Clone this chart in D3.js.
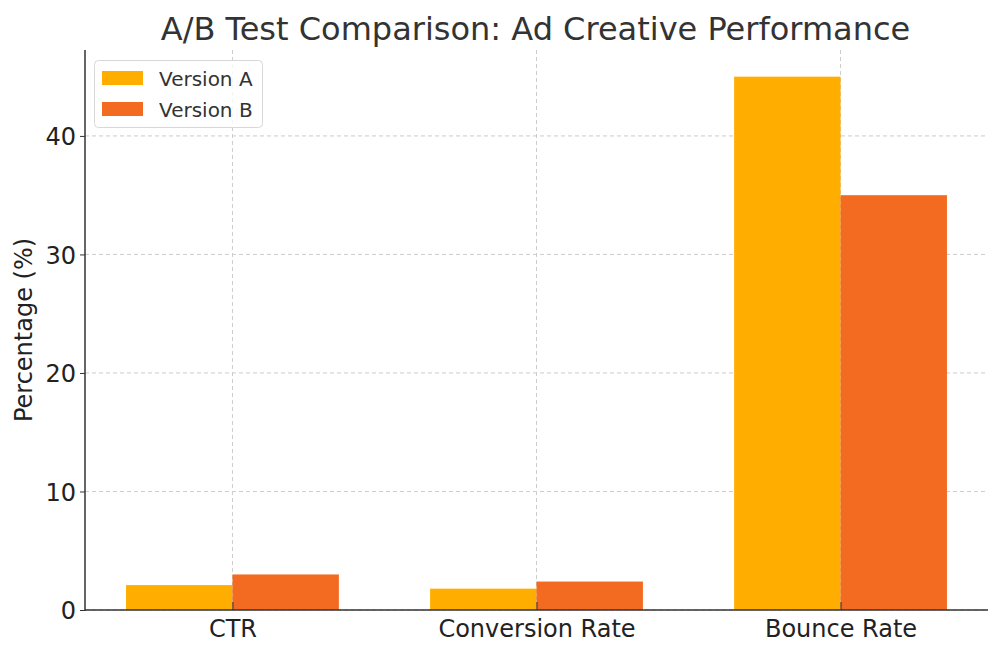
<!DOCTYPE html>
<html><head><meta charset="utf-8">
<script src="https://cdn.jsdelivr.net/npm/d3@7"></script>
<style>body{margin:0;background:#fff}svg{display:block;font-family:"DejaVu Sans",sans-serif}</style>
</head><body><svg id="c" width="1000" height="656"></svg>
<script>
const categories = ["CTR", "Conversion Rate", "Bounce Rate"];
const seriesNames = ["Version A", "Version B"];
const versionA = [2.1, 1.8, 45];
const versionB = [3.0, 2.4, 35];
const yTicks = [0, 10, 20, 30, 40];
const colors = ["#FFAE00", "#F26B21"];

const svg = d3.select("#c");
const L = 85, R = 988, T = 50, B = 610;
const barW = 0.35;
const x = d3.scaleLinear().domain([-0.485, 2.485]).range([L, R]);
const y = d3.scaleLinear().domain([0, 47.25]).range([B, T]);

// grid
const g = svg.append("g");
g.selectAll(".gy").data(yTicks).join("line")
  .attr("x1", L).attr("x2", R).attr("y1", d => y(d)).attr("y2", d => y(d))
  .attr("stroke", "#cccccc").attr("stroke-dasharray", "4,3").attr("stroke-width", 1);
g.selectAll(".gx").data(categories).join("line")
  .attr("x1", (d,i) => x(i)).attr("x2", (d,i) => x(i)).attr("y1", T).attr("y2", B)
  .attr("stroke", "#cccccc").attr("stroke-dasharray", "4,3").attr("stroke-width", 1);

// bars
const series = [versionA, versionB];
series.forEach((vals, s) => {
  svg.append("g").selectAll("rect").data(vals).join("rect")
    .attr("x", (d,i) => x(i + (s === 0 ? -barW : 0)))
    .attr("width", x(barW) - x(0))
    .attr("y", d => y(d))
    .attr("height", d => y(0) - y(d))
    .attr("fill", colors[s]);
});

// axes
const yAxis = d3.axisLeft(y).tickValues(yTicks).tickSize(5).tickPadding(4);
const ya = svg.append("g").attr("transform", `translate(${L},0)`).call(yAxis);
ya.select(".domain").remove();
ya.selectAll("text").attr("font-size", 24).attr("fill", "#222").attr("font-family", "DejaVu Sans").attr("dy", "0.36em");
ya.selectAll("line").attr("stroke", "#333");

const xAxis = d3.axisBottom(x).tickValues([0,1,2]).tickFormat(i => categories[i]).tickSize(-8).tickPadding(0);
const xa = svg.append("g").attr("transform", `translate(0,${B})`).call(xAxis);
xa.select(".domain").remove();
xa.selectAll("text").attr("font-size", 24).attr("fill", "#222").attr("font-family", "DejaVu Sans")
  .attr("y", 27).attr("dy", 0);
xa.selectAll("line").attr("stroke", "#333");

svg.append("line").attr("x1", L).attr("x2", L).attr("y1", T).attr("y2", B+1).attr("stroke", "#333").attr("stroke-width", 1.5);
svg.append("line").attr("x1", L).attr("x2", R).attr("y1", B).attr("y2", B).attr("stroke", "#333").attr("stroke-width", 1.5);

// labels
svg.append("text").attr("x", (L+R)/2 - 1).attr("y", 40).attr("text-anchor", "middle")
  .attr("font-size", 32).attr("fill", "#333").text("A/B Test Comparison: Ad Creative Performance");
svg.append("text").attr("transform", `translate(32,${(T+B)/2}) rotate(-90)`).attr("text-anchor", "middle")
  .attr("font-size", 24).attr("fill", "#222").text("Percentage (%)");

// legend
const lg = svg.append("g");
lg.append("rect").attr("x", 94.5).attr("y", 60.5).attr("width", 168).attr("height", 67).attr("rx", 4)
  .attr("fill", "#fff").attr("fill-opacity", 0.8).attr("stroke", "#d8d8d8");
seriesNames.forEach((n, i) => {
  lg.append("rect").attr("x", 102).attr("y", 71 + i*31).attr("width", 41).attr("height", 14).attr("fill", colors[i]);
  lg.append("text").attr("x", 159).attr("y", 86 + i*31).attr("font-size", 20).attr("fill", "#333").text(n);
});
</script></body></html>
